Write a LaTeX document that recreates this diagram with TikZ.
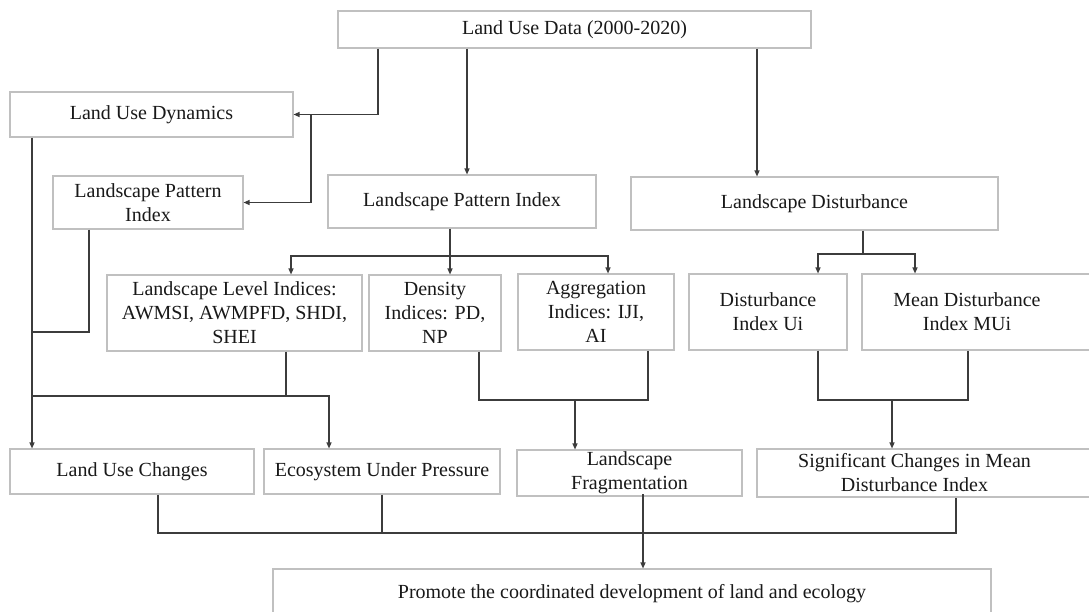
\documentclass[tikz,border=0pt]{standalone}
\usepackage{fontspec}
\setmainfont{Liberation Serif}
\usetikzlibrary{arrows.meta}
\definecolor{boxgray}{RGB}{192,192,192}
\definecolor{linegray}{RGB}{60,60,60}
\definecolor{txtcol}{RGB}{25,25,25}
\tikzset{
  box/.style={draw=boxgray, line width=1.1pt, inner sep=0pt, align=center,
    text=txtcol, font=\fontsize{20}{24}\selectfont},
  txt/.style={inner sep=0pt, align=center, text=txtcol, font=\fontsize{20}{24}\selectfont},
  conn/.style={draw=linegray, line width=1.2pt},
  arr/.style={conn, -{Triangle[length=6pt,width=5pt]}},
}
\begin{document}
\begin{tikzpicture}[x=1pt,y=-1pt]
\useasboundingbox (0,0) rectangle (1089,611);
\clip (0,0) rectangle (1089,611);
\fill[white] (0,0) rectangle (1089,611);

% boxes
\node[box, minimum width=473, minimum height=37] (data) at (574.5,29.5) {Land Use Data (2000-2020)};
\node[box, minimum width=283, minimum height=45] (lud) at (151.5,114.5) {Land Use Dynamics};
\node[box, minimum width=190, minimum height=53] (lpis) at (148,202.5) {Landscape Pattern\\Index};
\node[box, minimum width=268, minimum height=53] (lpi) at (462,201.5) {Landscape Pattern Index};
\node[box, minimum width=367, minimum height=53] (ld) at (814.5,203.5) {Landscape Disturbance};
\node[box, minimum width=255, minimum height=76] (lli) at (234.5,313) {Landscape Level Indices:\\AWMSI, AWMPFD, SHDI,\\SHEI};
\node[box, minimum width=132, minimum height=76] (dens) at (435,313) {Density\\Indices: PD,\\NP};
\node[box, minimum width=156, minimum height=76] (agg) at (596,312) {Aggregation\\Indices: IJI,\\AI};
\node[box, minimum width=158, minimum height=76] (dui) at (768,312) {Disturbance\\Index Ui};
\node[box, minimum width=233, minimum height=76] (mui) at (978.5,312) {};
\node[txt] (muitxt) at (967,312) {Mean Disturbance\\Index MUi};
\node[box, minimum width=244, minimum height=45] (luc) at (132,471.5) {Land Use Changes};
\node[box, minimum width=236, minimum height=45] (eco) at (382,471.5) {Ecosystem Under Pressure};
\node[box, minimum width=225, minimum height=46] (frag) at (629.5,473) {Landscape\\Fragmentation};
\node[box, minimum width=343, minimum height=48] (sig) at (928.5,473) {};
\node[txt] (sigtxt) at (914.5,473) {Significant Changes in Mean\\Disturbance Index};
\node[box, minimum width=718, minimum height=50] (prom) at (632,594) {Promote the coordinated development of land and ecology};

% junction coordinates
\coordinate (lpij) at (450,256);
\coordinate (ldj) at (863,254);
\coordinate (spA) at (32,332);
\coordinate (spB) at (32,396);
\coordinate (dj) at (575,400);
\coordinate (uj) at (892,400);
\coordinate (bj) at (643,533);

% top level
\draw[arr] (378,0 |- data.south) |- (lud.east);
\draw[arr] (311,0 |- lud.east) |- (lpis.east);
\draw[arr] (467,0 |- data.south) -- (467,0 |- lpi.north);
\draw[arr] (757,0 |- data.south) -- (757,0 |- ld.north);

% landscape pattern index split
\draw[arr] (450,0 |- lpi.south) -- (450,0 |- dens.north);
\draw[arr] (lpij) -| (291,0 |- lli.north);
\draw[arr] (lpij) -| (608,0 |- agg.north);

% landscape disturbance split
\draw[conn] (863,0 |- ld.south) -- (ldj);
\draw[arr] (ldj) -| (818,0 |- dui.north);
\draw[arr] (ldj) -| (915,0 |- mui.north);

% left spine
\draw[arr] (32,0 |- lud.south) -- (32,0 |- luc.north);
\draw[conn] (89,0 |- lpis.south) |- (spA);
\draw[conn] (286,0 |- lli.south) -- (286,0 |- spB);
\draw[arr] (spB) -| (329,0 |- eco.north);

% density + aggregation
\draw[conn] (479,0 |- dens.south) -- (479,0 |- dj) -- (648,0 |- dj) -- (648,0 |- agg.south);
\draw[arr] (dj) -- (575,0 |- frag.north);

% disturbance indices
\draw[conn] (818,0 |- dui.south) -- (818,0 |- uj) -- (968,0 |- uj) -- (968,0 |- mui.south);
\draw[arr] (uj) -- (892,0 |- sig.north);

% bottom collection
\draw[conn] (158,0 |- luc.south) -- (158,0 |- bj) -- (956,0 |- bj) -- (956,0 |- sig.south);
\draw[conn] (382,0 |- eco.south) -- (382,0 |- bj);
\draw[arr] (643,494) -- (643,0 |- prom.north);
\end{tikzpicture}
\end{document}
